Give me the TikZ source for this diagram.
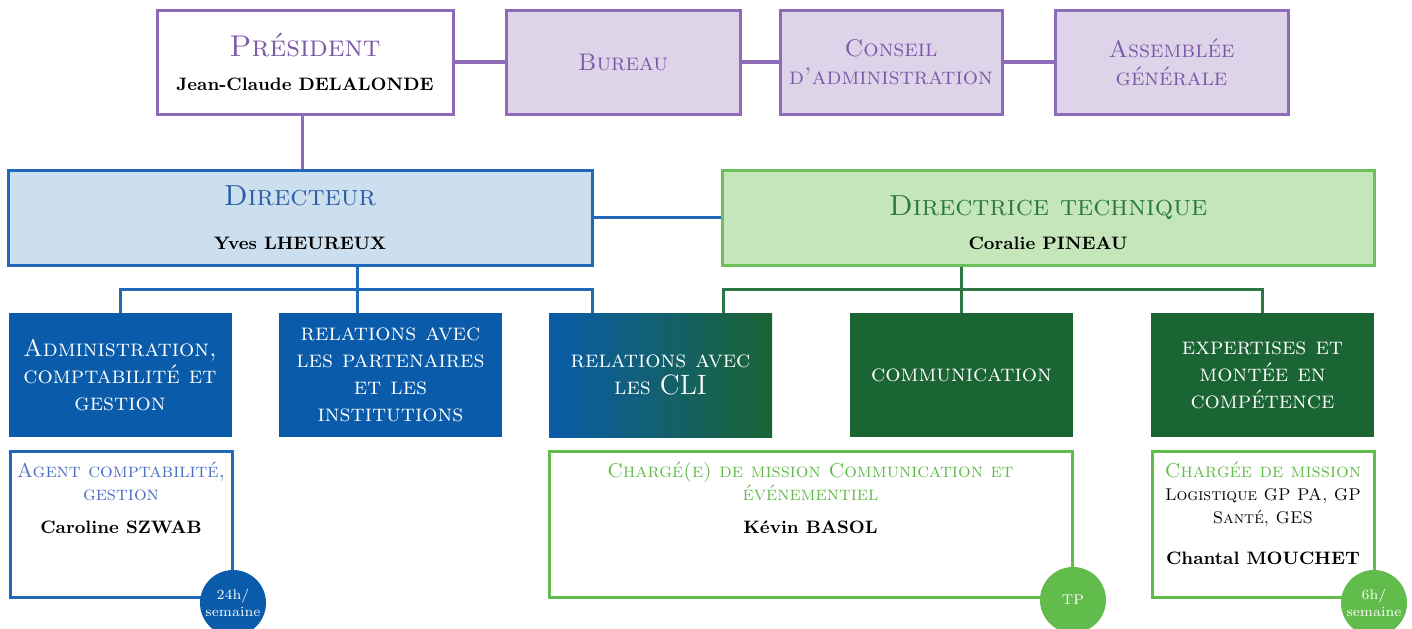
\documentclass[tikz,border=0pt]{standalone}
\usepackage{tikz}
\usetikzlibrary{positioning}
\usetikzlibrary{shapes}

\definecolor{violetLine}{HTML}{8E6BB8}
\definecolor{violetFill}{HTML}{DDD4E9}
\definecolor{violetText}{HTML}{7D58A8}
\definecolor{dirFill}{HTML}{CCDFEE}
\definecolor{dirLine}{HTML}{2268B8}
\definecolor{dirText}{HTML}{2B5DA6}
\definecolor{techFill}{HTML}{C5E5BA}
\definecolor{techLine}{HTML}{6DBF5B}
\definecolor{techText}{HTML}{2A7A3A}
\definecolor{unitBlue}{HTML}{0A5CAA}
\definecolor{unitGreen}{HTML}{1B6433}
\definecolor{agentText}{HTML}{4C6DC5}
\definecolor{leafGreen}{HTML}{62BC4B}
\definecolor{busGreen}{HTML}{2E7745}

\tikzset{
    topBox/.style={draw=violetLine, line width=1.5pt, fill=violetFill, inner sep=0pt,
        minimum height=52pt, align=center, text=violetText,
        font=\fontsize{12}{14}\selectfont\scshape}
}
\tikzset{
    headBox/.style={draw=#1, line width=1.5pt, inner sep=0pt, minimum height=47.5pt, align=center}
}
\tikzset{
    unitBox/.style={fill=#1, inner sep=0pt, minimum width=111.5pt, minimum height=62pt,
        align=center, text=white, font=\fontsize{12}{13.5}\selectfont\scshape}
}
\tikzset{
    staffBox/.style={draw=#1, fill=white, line width=1.5pt, inner sep=0pt, minimum height=73pt}
}
\tikzset{
    staffText/.style={inner sep=0pt, align=center, font=\fontsize{10}{11.5}\selectfont\scshape}
}
\tikzset{
    hourBadge/.style={circle, fill=#1, inner sep=0pt, minimum size=33pt, align=center,
        text=white, font=\fontsize{7}{8.5}\selectfont}
}
\tikzset{
    link/.style={draw=#1, line width=1.5pt}
}
\newcommand{\staffName}[1]{{\normalfont\bfseries\fontsize{9}{11}\selectfont\color{black}#1}}

\begin{document}
\begin{tikzpicture}[x=0.5pt, y=-0.5pt]
    \useasboundingbox (0,0) rectangle (1412,628);
    % gouvernance
    \node[topBox, fill=white, minimum width=148pt] (president) at (305,62)
        {{\fontsize{15}{18}\selectfont Président}\\[3pt]\staffName{Jean-Claude DELALONDE}};
    \node[topBox, minimum width=117pt] (bureau) at (623,62) {Bureau};
    \node[topBox, minimum width=111pt] (conseil) at (891,62) {Conseil\\d'administration};
    \node[topBox, minimum width=116.5pt] (assemblee) at (1171.5,62) {Assemblée\\générale};
    \draw[link=violetLine, line width=2pt] (president) -- (bureau);
    \draw[link=violetLine, line width=2pt] (bureau) -- (conseil);
    \draw[link=violetLine, line width=2pt] (conseil) -- (assemblee);
    % direction
    \node[headBox=dirLine, fill=dirFill, minimum width=292pt] (directeur) at (300,217.5)
        {{\fontsize{14.5}{17}\selectfont\scshape\color{dirText}Directeur}\\[10pt]\staffName{Yves LHEUREUX}};
    \node[headBox=techLine, fill=techFill, minimum width=326pt] (technique) at (1048,217.5) {};
    \node[inner sep=0pt, align=center, yshift=-2.5pt] (techniqueTxt) at (technique)
        {{\fontsize{14.5}{17}\selectfont\scshape\color{techText}Directrice technique}\\[5pt]\staffName{Coralie PINEAU}};
    \draw[link=violetLine] (president.south -| 302,0) -- (directeur.north -| 302,0);
    \draw[link=dirLine] (directeur) -- (technique);
    % poles
    \node[unitBox=unitBlue] (admin) at (120,375) {Administration,\\comptabilité et\\gestion};
    \node[unitBox=unitBlue] (partenaires) at (390.5,375) {relations avec\\les partenaires\\et les\\institutions};
    \node[unitBox=unitBlue, left color=unitBlue, right color=unitGreen] (cli) at (660.5,375)
        {relations avec\\les {\upshape\fontsize{14}{14}\selectfont CLI}};
    \node[unitBox=unitGreen] (communication) at (961.5,375) {communication};
    \node[unitBox=unitGreen] (expertises) at (1262.5,375) {expertises et\\montée en\\compétence};
    \coordinate (blueBus) at (357,289);
    \coordinate (blueEnd) at (592,289);
    \coordinate (greenStart) at (723,289);
    \draw[link=dirLine] (admin.north) |- (blueEnd) -- (blueEnd |- cli.north);
    \draw[link=dirLine] (blueBus |- directeur.south) -- (blueBus |- partenaires.north);
    \draw[link=busGreen] (greenStart |- cli.north) |- (expertises.north |- greenStart) -- (expertises.north);
    \draw[link=busGreen] (communication.north |- technique.south) -- (communication.north);
    % equipe
    \node[staffBox=dirLine, minimum width=111pt] (agent) at (121,524) {};
    \node[staffBox=leafGreen, minimum width=261.5pt] (charge) at (810.5,524) {};
    \node[staffBox=leafGreen, minimum width=111pt] (mission) at (1263,524) {};
    \node[staffText, text=agentText, below=6pt of agent.north] (agentTxt)
        {Agent comptabilité,\\gestion\\[5pt]\staffName{Caroline SZWAB}};
    \node[staffText, text=leafGreen, below=6pt of charge.north] (chargeTxt)
        {Chargé(e) de mission Communication et\\événementiel\\[5pt]\staffName{Kévin BASOL}};
    \node[staffText, text=leafGreen, below=6pt of mission.north] (missionTxt)
        {Chargée de mission\\{\color{black}\fontsize{8.5}{11}\selectfont Logistique GP PA, GP}\\{\color{black}\fontsize{8.5}{11}\selectfont Santé, GES}\\[9pt]\staffName{Chantal MOUCHET}};
    \node[hourBadge=unitBlue] (agentHours) at (233,603) {24h/\\semaine};
    \node[hourBadge=leafGreen] (chargeHours) at (1073,600) {TP};
    \node[hourBadge=leafGreen] (missionHours) at (1374,603) {6h/\\semaine};
\end{tikzpicture}
\end{document}
